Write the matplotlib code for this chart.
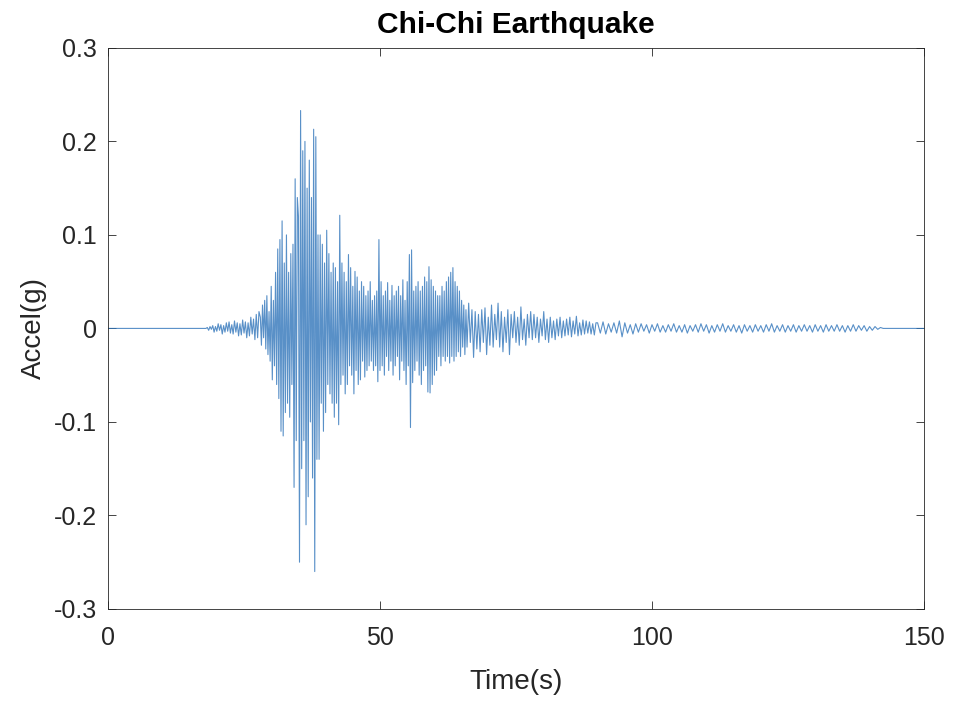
import numpy as np
import matplotlib
matplotlib.use("Agg")
import matplotlib.pyplot as plt

# Chi-Chi record, values (g)
# quiet lead-in before first arrivals
t_lead = [0.0, 18.0]
a_lead = [0.0, 0.0]

# 18 - 27.75 s, dt = 0.25
dt_b = 0.25
a_b = [0.000, 0.001, -0.002, 0.002, -0.001, 0.003, -0.004, 0.002, -0.003, 0.005,
       -0.002, 0.004, -0.006, 0.003, -0.004, 0.006, -0.003, 0.007, -0.005, 0.004,
       -0.006, 0.008, -0.004, 0.006, -0.008, 0.005, -0.007, 0.009, -0.005, 0.007,
       -0.010, 0.006, -0.008, 0.012, -0.006, 0.010, -0.012, 0.015, -0.010, 0.018]

# 28 - 65.8 s, dt = 0.2 (strong motion)
dt_c = 0.2
a_c = [0.012, -0.018, 0.025, -0.010, 0.030,
       -0.022, 0.035, -0.028, 0.018, -0.035,
       0.045, -0.055, 0.030, -0.040, 0.060,
       -0.060, 0.085, -0.075, 0.095, -0.110,
       0.115, -0.115, 0.070, -0.090, 0.100,
       -0.080, 0.060, -0.095, 0.080, -0.060,
       0.090, -0.170, 0.160, -0.120, 0.140,
       0.120, -0.250, 0.233, -0.150, 0.190,
       -0.120, 0.200, -0.210, 0.150, -0.180,
       0.180, -0.100, 0.140, -0.160, 0.213,
       -0.260, 0.205, -0.140, 0.100, -0.140,
       0.100, -0.080, 0.090, -0.110, 0.070,
       -0.090, 0.105, -0.060, 0.080, -0.070,
       0.060, -0.080, 0.070, -0.095, 0.065,
       -0.080, 0.050, -0.103, 0.121, -0.060,
       0.070, -0.050, 0.060, -0.070, 0.050,
       -0.060, 0.079, -0.040, 0.065, -0.050,
       0.045, -0.070, 0.061, -0.045, 0.055,
       -0.060, 0.040, -0.055, 0.050, -0.035,
       0.045, -0.052, 0.035, -0.045, 0.040,
       -0.040, 0.050, -0.035, 0.030, -0.045,
       0.035, -0.040, 0.040, -0.057, 0.095,
       -0.045, 0.050, -0.040, 0.035, -0.050,
       0.040, -0.030, 0.049, -0.045, 0.030,
       -0.035, 0.046, -0.050, 0.035, -0.040,
       0.040, -0.030, 0.045, -0.055, 0.035,
       -0.035, 0.052, -0.045, 0.030, -0.060,
       0.050, -0.040, 0.079, -0.106, 0.084,
       -0.058, 0.040, -0.045, 0.045, -0.035,
       0.050, -0.050, 0.040, -0.060, 0.045,
       -0.045, 0.055, -0.040, 0.050, -0.068,
       0.066, -0.069, 0.052, -0.060, 0.045,
       -0.050, 0.040, -0.045, 0.035, -0.030,
       0.035, -0.040, 0.045, -0.030, 0.040,
       -0.035, 0.050, -0.030, 0.055, -0.037,
       0.060, -0.030, 0.065, -0.035, 0.050,
       -0.030, 0.045, -0.025, 0.040, -0.030,
       0.030, -0.020, 0.025, -0.028, 0.020]

# 66 - 89.7 s, dt = 0.3 (coda)
dt_d = 0.3
a_d = [-0.020, 0.027, -0.015, 0.020, -0.031, 0.018, -0.022, 0.015, -0.025, 0.020,
       -0.015, 0.022, -0.028, 0.012, -0.018, 0.025, -0.020, 0.015, -0.012, 0.027,
       -0.020, 0.018, -0.025, 0.012, -0.015, 0.020, -0.028, 0.015, -0.010, 0.018,
       -0.015, 0.012, -0.018, 0.023, -0.012, 0.010, -0.018, 0.015, -0.010, 0.018,
       -0.012, 0.015, -0.010, 0.012, -0.015, 0.010, -0.008, 0.018, -0.012, 0.010,
       -0.015, 0.012, -0.010, 0.008, -0.012, 0.010, -0.008, 0.012, -0.010, 0.008,
       -0.008, 0.010, -0.007, 0.012, -0.009, 0.008, -0.006, 0.013, -0.008, 0.006,
       -0.007, 0.009, -0.006, 0.008, -0.005, 0.007, -0.006, 0.005, -0.007, 0.006]

# 90 - 142.5 s, dt = 0.5 (tail)
dt_e = 0.5
a_e = [0.006, -0.005, 0.007, -0.006, 0.005, -0.004, 0.006, -0.005, 0.008, -0.009,
       0.006, -0.005, 0.004, -0.006, 0.005, -0.004, 0.005, -0.003, 0.004, -0.005,
       0.004, -0.003, 0.005, -0.004, 0.003, -0.004, 0.004, -0.003, 0.005, -0.004,
       0.003, -0.004, 0.004, -0.005, 0.003, -0.003, 0.004, -0.004, 0.005, -0.003,
       0.004, -0.005, 0.003, -0.004, 0.004, -0.003, 0.005, -0.004, 0.003, -0.003,
       0.004, -0.004, 0.003, -0.005, 0.004, -0.003, 0.003, -0.004, 0.004, -0.003,
       0.003, -0.004, 0.004, -0.003, 0.005, -0.004, 0.003, -0.003, 0.004, -0.004,
       0.003, -0.003, 0.004, -0.004, 0.003, -0.003, 0.004, -0.003, 0.003, -0.004,
       0.004, -0.003, 0.003, -0.004, 0.004, -0.003, 0.003, -0.003, 0.004, -0.003,
       0.003, -0.004, 0.003, -0.003, 0.004, -0.003, 0.003, -0.002, 0.003, -0.003,
       0.002, -0.002, 0.002, -0.001, 0.001, 0.000]

# trailing quiet part
t_end = [143.0, 150.0]
a_end = [0.0, 0.0]

yticks = [-0.3, -0.2, -0.1, 0, 0.1, 0.2, 0.3]
ytick_labels = ["-0.3", "-0.2", "-0.1", "0", "0.1", "0.2", "0.3"]
xticks = [0, 50, 100, 150]

# assemble the record
t_b = 18.0 + dt_b * np.arange(len(a_b))
t_c = 28.0 + dt_c * np.arange(len(a_c))
t_d = 66.0 + dt_d * np.arange(len(a_d))
t_e = 90.0 + dt_e * np.arange(len(a_e))
t = np.concatenate([t_lead, t_b, t_c, t_d, t_e, t_end])
acc = np.concatenate([a_lead, a_b, a_c, a_d, a_e, a_end])

plt.rcParams['font.family'] = ['Liberation Sans', 'DejaVu Sans']
grey = '#262626'

fig = plt.figure(figsize=(9.56, 7.04), dpi=100)
ax = fig.add_axes([0.113, 0.135, 0.8535, 0.797])
ax.plot(t, acc, color='#2f74ba', lw=0.8, alpha=0.8)

ax.set_xlim(0, 150)
ax.set_ylim(-0.3, 0.3)
ax.set_xticks(xticks)
ax.set_yticks(yticks)
ax.set_yticklabels(ytick_labels)
ax.tick_params(direction='in', length=6, width=0.6, top=True, right=True,
               labelsize=18, colors=grey)
ax.tick_params(axis='x', pad=12)
ax.tick_params(axis='y', pad=8)
for s in ax.spines.values():
    s.set_linewidth(0.6)
    s.set_color(grey)

ax.set_xlabel("Time(s)", fontsize=20, color=grey, labelpad=14)
ax.set_ylabel("Accel(g)", fontsize=20, color=grey, labelpad=5)
ax.set_title("Chi-Chi Earthquake", fontsize=21.5, fontweight='bold', pad=11)

fig.savefig("out.png", dpi=100)
